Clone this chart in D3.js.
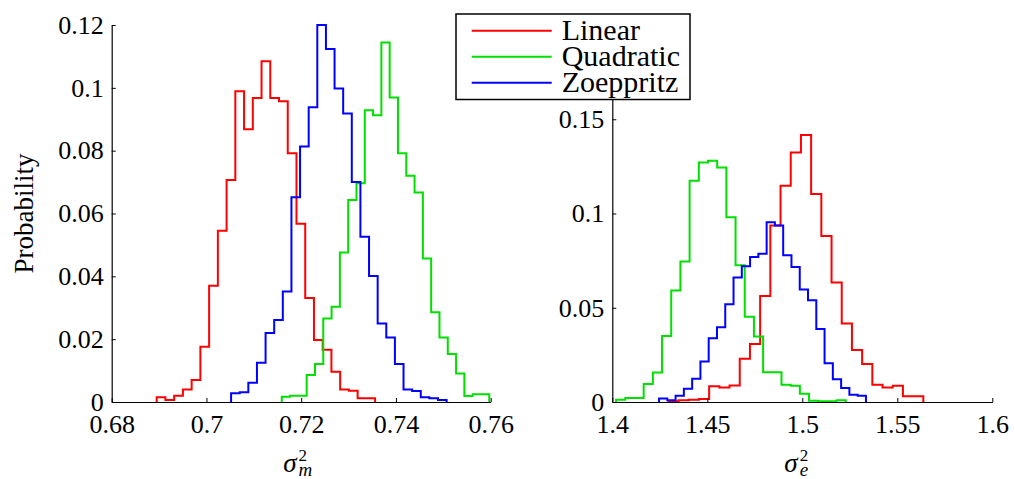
<!DOCTYPE html>
<html>
<head>
<meta charset="utf-8">
<script src="https://cdn.jsdelivr.net/npm/d3@7"></script>
<style>
  body { margin: 0; background: #fff; }
</style>
</head>
<body>
<div id="container"></div>
<script>
/* DATA */
const seriesNames = ["Linear", "Quadratic", "Zoeppritz"];
const seriesColors = ["#ff0000", "#00e000", "#0000ff"];

// sigma_m^2 histograms (bin range [lo, hi], probability per bin)
const smLinearRange = [0.6895, 0.7356];
const smLinear = [0.0015, 0.0006, 0.002, 0.004, 0.007, 0.0176, 0.037, 0.0545, 0.0707, 0.0989,
  0.0868, 0.0968, 0.1085, 0.0968, 0.0957, 0.0792, 0.0567, 0.0331, 0.0197, 0.0166,
  0.0096, 0.004, 0.0036, 0.0012, 0.0012];
const smQuadRange = [0.7159, 0.7597];
const smQuad = [0.0017, 0.002, 0.002, 0.0086, 0.0121, 0.0266, 0.0303, 0.0476, 0.0643, 0.0696,
  0.0929, 0.0913, 0.1144, 0.0969, 0.0792, 0.072, 0.0667, 0.0457, 0.0286, 0.0205,
  0.0153, 0.0091, 0.0019, 0.0025, 0.0025];
const smZoepRange = [0.7052, 0.7507];
const smZoep = [0.0028, 0.0031, 0.0061, 0.0125, 0.022, 0.0261, 0.0352, 0.0652, 0.0813, 0.0938,
  0.12, 0.1124, 0.0998, 0.0918, 0.070, 0.0526, 0.0401, 0.025, 0.0205, 0.0121,
  0.004, 0.0035, 0.0015, 0.0012, 0.0006];

// sigma_e^2 histograms
const seLinearRange = [1.4295, 1.5637];
const seLinear = [0.0004, 0.0009, 0.0012, 0.0016, 0.0083, 0.0077, 0.0088, 0.0229, 0.0308, 0.0563,
  0.0937, 0.1147, 0.1323, 0.1417, 0.1103, 0.088, 0.0634, 0.0417, 0.0276, 0.0201,
  0.0092, 0.0077, 0.0086, 0.003, 0.003];
const seQuadRange = [1.402, 1.5229];
const seQuad = [0.0012, 0.0021, 0.0021, 0.0095, 0.0157, 0.035, 0.0591, 0.0746, 0.1174, 0.1271,
  0.128, 0.1244, 0.098, 0.0725, 0.0452, 0.0347, 0.0158, 0.0158, 0.0092, 0.0086,
  0.0044, 0.0007, 0.0004, 0.0004, 0.0009];
const seZoepRange = [1.4246, 1.5335];
const seZoep = [0.0018, 0.0009, 0.0033, 0.007, 0.0123, 0.0215, 0.0338, 0.0396, 0.0519, 0.066,
  0.072, 0.0769, 0.0787, 0.0954, 0.0936, 0.0778, 0.0716, 0.0597, 0.054, 0.0387,
  0.0206, 0.0121, 0.0074, 0.0039, 0.0033];

const smXTicks = [0.68, 0.7, 0.72, 0.74, 0.76];
const smYTicks = [0, 0.02, 0.04, 0.06, 0.08, 0.1, 0.12];
const seXTicks = [1.4, 1.45, 1.5, 1.55, 1.6];
const seYTicks = [0, 0.05, 0.1, 0.15];

/* CONSTANTS */
const width = 1015, height = 479;
const plotTop = 25, plotBottom = 402;
const fontFam = "Liberation Serif";

const svg = d3.select("#container").append("svg")
  .attr("width", width)
  .attr("height", height)
  .attr("font-family", fontFam);

// turn bin range + values into outline points
function outline(range, vals) {
  const w = (range[1] - range[0]) / vals.length;
  const pts = [[range[0], 0]];
  vals.forEach((v, i) => {
    pts.push([range[0] + i * w, v]);
    pts.push([range[0] + (i + 1) * w, v]);
  });
  pts.push([range[1], 0]);
  return pts;
}

function panel(opts) {
  const xScale = d3.scaleLinear().domain(opts.xDomain).range([opts.left, opts.right]);
  const yScale = d3.scaleLinear().domain(opts.yDomain).range([plotBottom, plotTop]);

  const line = d3.line().x(d => xScale(d[0])).y(d => yScale(d[1]));

  opts.series.forEach((s, i) => {
    svg.append("path")
      .attr("d", line(outline(s[0], s[1])))
      .attr("fill", "none")
      .attr("stroke", seriesColors[i])
      .attr("stroke-width", 2)
      .attr("stroke-linejoin", "miter");
  });

  const xAxis = d3.axisBottom(xScale)
    .tickValues(opts.xTicks)
    .tickFormat(d => String(d))
    .tickSizeInner(-4)
    .tickSizeOuter(0)
    .tickPadding(12.5);
  const yAxis = d3.axisLeft(yScale)
    .tickValues(opts.yTicks)
    .tickFormat(d => String(d))
    .tickSizeInner(-4)
    .tickSizeOuter(0)
    .tickPadding(8);

  const gx = svg.append("g")
    .attr("transform", `translate(0,${plotBottom})`)
    .call(xAxis);
  const gy = svg.append("g")
    .attr("transform", `translate(${opts.left},0)`)
    .call(yAxis);

  [gx, gy].forEach(g => {
    g.attr("font-family", fontFam).attr("font-size", 26);
    g.selectAll("path.domain").attr("stroke", "#000").attr("stroke-width", 1.2);
    g.selectAll(".tick line").attr("stroke", "#000").attr("stroke-width", 1);
    g.selectAll(".tick text").attr("fill", "#000");
  });

  // x label: sigma^2 with subscript
  const cx = (opts.left + opts.right) / 2;
  const lab = svg.append("text")
    .attr("x", cx - 18).attr("y", 472)
    .attr("font-family", fontFam);
  lab.append("tspan")
    .attr("font-size", 27).attr("font-style", "italic")
    .text("σ");
  lab.append("tspan")
    .attr("dx", 2).attr("dy", -11)
    .attr("font-size", 17)
    .text("2");
  lab.append("tspan")
    .attr("dx", -8.5).attr("dy", 15)
    .attr("font-size", 19).attr("font-style", "italic")
    .text(opts.sub);
}

panel({
  left: 111.7, right: 490.7,
  xDomain: [0.68, 0.76], yDomain: [0, 0.12],
  xTicks: smXTicks, yTicks: smYTicks,
  series: [[smLinearRange, smLinear], [smQuadRange, smQuad], [smZoepRange, smZoep]],
  sub: "m"
});

panel({
  left: 612.3, right: 992.3,
  xDomain: [1.4, 1.6], yDomain: [0, 0.2],
  xTicks: seXTicks, yTicks: seYTicks,
  series: [[seLinearRange, seLinear], [seQuadRange, seQuad], [seZoepRange, seZoep]],
  sub: "e"
});

// y label
svg.append("text")
  .attr("transform", `translate(33,${(plotTop + plotBottom) / 2}) rotate(-90)`)
  .attr("text-anchor", "middle")
  .attr("font-family", fontFam)
  .attr("font-size", 27)
  .text("Probability");

/* LEGEND */
const legend = svg.append("g");
legend.append("rect")
  .attr("x", 456).attr("y", 14)
  .attr("width", 234).attr("height", 85.5)
  .attr("fill", "#fff")
  .attr("stroke", "#000")
  .attr("stroke-width", 1.5);

const rowY = d3.scalePoint().domain(seriesNames).range([30.7, 82.7]);

seriesNames.forEach((name, i) => {
  legend.append("line")
    .attr("x1", 471.7).attr("x2", 551.7)
    .attr("y1", rowY(name)).attr("y2", rowY(name))
    .attr("stroke", seriesColors[i])
    .attr("stroke-width", 2);
  legend.append("text")
    .attr("x", 561.7).attr("y", rowY(name) + 9.5)
    .attr("font-family", fontFam)
    .attr("font-size", 30)
    .text(name);
});
</script>
</body>
</html>
